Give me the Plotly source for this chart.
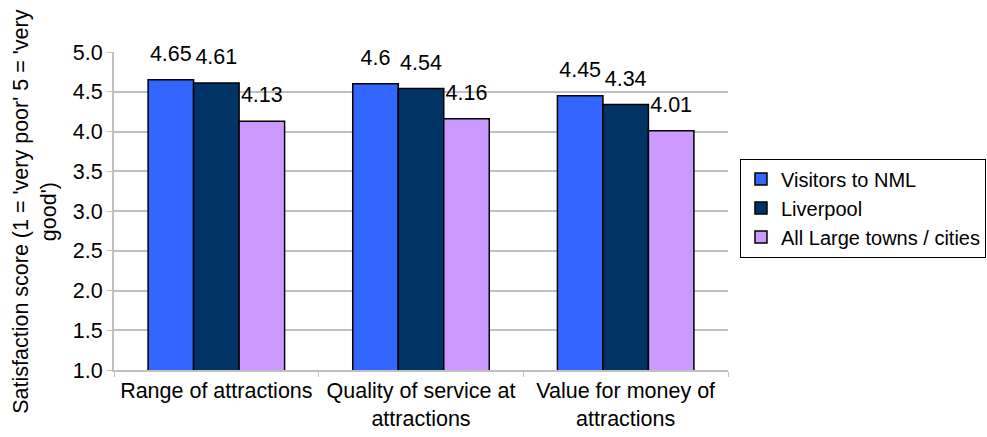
import plotly.graph_objects as go

categories = ["Range of attractions", "Quality of service at<br>attractions", "Value for money of<br>attractions"]
series_names = ["Visitors to NML", "Liverpool", "All Large towns / cities"]
nml = [4.65, 4.6, 4.45]
liverpool = [4.61, 4.54, 4.34]
large_towns = [4.13, 4.16, 4.01]
colors = ["#3366FF", "#003366", "#CC99FF"]

FONT = "Liberation Sans, Arial, sans-serif"
SIZE = 21.5

fig = go.Figure()
for i, (name, vals, col) in enumerate(zip(series_names, [nml, liverpool, large_towns], colors)):
    fig.add_trace(go.Bar(
        x=categories, y=vals, name=name,
        offsetgroup=str(i),
        marker=dict(color=col, line=dict(color="black", width=1.5)),
        hoverinfo="skip",
    ))
    # value labels sit a little above each bar top
    fig.add_trace(go.Scatter(
        x=categories, y=vals, mode="markers+text",
        offsetgroup=str(i), showlegend=False, hoverinfo="skip",
        marker=dict(size=20, opacity=0),
        text=[f"{v:g}" for v in vals], textposition="top center",
        cliponaxis=False,
        textfont=dict(family=FONT, size=SIZE, color="black"),
    ))

fig.update_layout(
    width=987, height=437,
    margin=dict(l=114, r=259, t=52, b=67, autoexpand=False),
    paper_bgcolor="white", plot_bgcolor="white",
    barmode="group", bargap=0.333, bargroupgap=0,
    scattermode="group", scattergap=0.333,
    font=dict(family=FONT, size=SIZE, color="black"),
    showlegend=True,
    legend=dict(
        x=1.0195, y=0.665, xanchor="left", yanchor="top",
        bordercolor="black", borderwidth=1,
        font=dict(family=FONT, size=20),
        itemwidth=30,
    ),
    xaxis=dict(
        showline=True, linecolor="#C0C0C0", linewidth=2,
        ticks="outside", tickson="boundaries", tickcolor="#C0C0C0", ticklen=5,
        showgrid=False,
    ),
    yaxis=dict(
        range=[1, 5], dtick=0.5, tickformat=".1f",
        showline=True, linecolor="#C0C0C0", linewidth=2,
        ticks="outside", tickcolor="#C0C0C0", ticklen=5,
        showgrid=True, gridcolor="#C0C0C0", gridwidth=2,
        zeroline=False,
    ),
    annotations=[dict(
        text="Satisfaction score (1 = 'very poor' 5 = 'very<br>good')",
        textangle=-90, xref="paper", yref="paper",
        x=-0.129, y=0.5, xanchor="center", yanchor="middle",
        showarrow=False, font=dict(family=FONT, size=SIZE),
    )],
)

fig.write_html("out.html")
